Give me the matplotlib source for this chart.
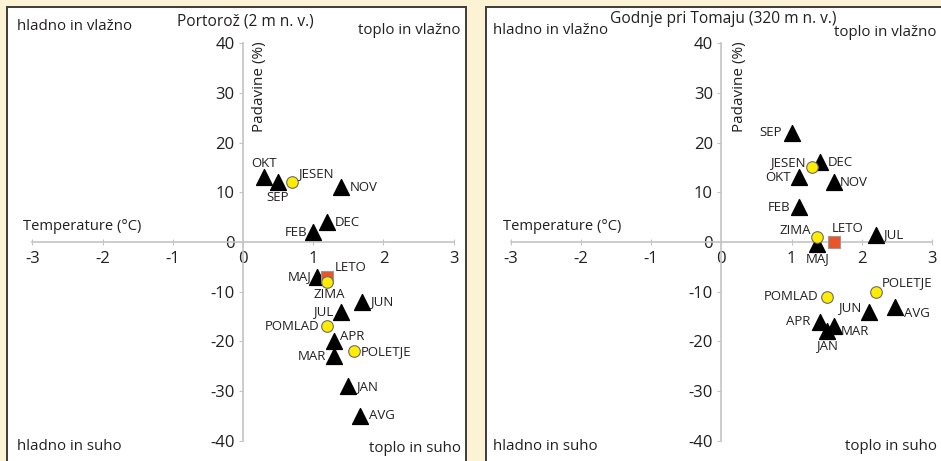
import numpy as np
import matplotlib.pyplot as plt
from matplotlib.patches import Rectangle

plt.rcParams['font.family'] = ['Open Sans', 'DejaVu Sans']
plt.rcParams['axes.unicode_minus'] = False

# Portoroz
port_months = ["JAN", "FEB", "MAR", "APR", "MAJ", "JUN", "JUL", "AVG", "SEP", "OKT", "NOV", "DEC"]
port_month_t = [1.5, 1.0, 1.3, 1.3, 1.05, 1.7, 1.4, 1.67, 0.5, 0.3, 1.4, 1.2]
port_month_p = [-29, 2, -23, -20, -7, -12, -14, -35, 12, 13, 11, 4]
port_seasons = ["ZIMA", "POMLAD", "POLETJE", "JESEN"]
port_season_t = [1.2, 1.2, 1.58, 0.7]
port_season_p = [-8, -17, -22, 12]
port_year_t = [1.2]
port_year_p = [-7]

# Godnje pri Tomaju
godn_months = ["JAN", "FEB", "MAR", "APR", "MAJ", "JUN", "JUL", "AVG", "SEP", "OKT", "NOV", "DEC"]
godn_month_t = [1.5, 1.1, 1.6, 1.4, 1.37, 2.1, 2.2, 2.48, 1.0, 1.1, 1.6, 1.41]
godn_month_p = [-18, 7, -17, -16, -0.5, -14, 1.5, -13, 22, 13, 12, 16]
godn_seasons = ["ZIMA", "POMLAD", "POLETJE", "JESEN"]
godn_season_t = [1.37, 1.5, 2.2, 1.29]
godn_season_p = [1, -11, -10, 15]
godn_year_t = [1.6]
godn_year_p = [0]

# label offsets in pixels (dx, dy, ha)
port_month_off = {"JAN": (8, 0, "left"), "FEB": (-6, 0, "right"), "MAR": (-8, 0, "right"),
                  "APR": (6, 5, "left"), "MAJ": (-5, 0, "right"), "JUN": (8, 0, "left"),
                  "JUL": (-8, 0, "right"), "AVG": (9, 0, "left"), "SEP": (0, -15, "center"),
                  "OKT": (0, 14, "center"), "NOV": (8, 0, "left"), "DEC": (8, 0, "left")}
port_season_off = {"ZIMA": (2, -13, "center"), "POMLAD": (-8, 0, "right"),
                   "POLETJE": (7, 0, "left"), "JESEN": (6, 9, "left")}
port_year_off = (8, 9, "left")

godn_month_off = {"JAN": (0, -14, "center"), "FEB": (-8, 0, "right"), "MAR": (7, -5, "left"),
                  "APR": (-9, 0, "right"), "MAJ": (0, -14, "center"), "JUN": (-7, 4, "right"),
                  "JUL": (7, 0, "left"), "AVG": (9, -7, "left"), "SEP": (-10, 0, "right"),
                  "OKT": (-8, 0, "right"), "NOV": (6, 0, "left"), "DEC": (7, 0, "left")}
godn_season_off = {"ZIMA": (-6, 7, "right"), "POMLAD": (-8, 0, "right"),
                   "POLETJE": (6, 9, "left"), "JESEN": (-6, 5, "right")}
godn_year_off = (-2, 13, "left")

W, H = 941, 461
fig = plt.figure(figsize=(W / 100, H / 100), dpi=100)
fig.patch.set_facecolor("#fcf3d4")

grey = "#c4c4c4"
txt = "#231f20"


def panel(box, x0px, months, mt, mp, moff, seasons, st, sp, soff, yt, yp, yoff):
    left, right, top, bottom = box
    unit_x, unit_y = 70.2, 4.97
    ax = fig.add_axes([left / W, 1 - bottom / H, (right - left) / W, (bottom - top) / H])
    ax.set_xlim((left - x0px) / unit_x, (right - x0px) / unit_x)
    ax.set_ylim((242 - bottom) / unit_y, (242 - top) / unit_y)
    ax.set_facecolor("white")
    ax.add_patch(Rectangle((0, 0), 1, 1, transform=ax.transAxes, fill=False,
                           ec="#3c3c3c", lw=1.4, clip_on=False, zorder=10))
    for s in ["top", "right"]:
        ax.spines[s].set_visible(False)
    ax.spines["left"].set_position(("data", 0))
    ax.spines["bottom"].set_position(("data", 0))
    ax.spines["left"].set_bounds(-40, 40)
    ax.spines["bottom"].set_bounds(-3, 3)
    for s in ["left", "bottom"]:
        ax.spines[s].set_color(grey)
        ax.spines[s].set_linewidth(1.2)
    ax.set_xticks(np.arange(-3, 4, 1))
    ax.set_yticks(np.arange(-40, 41, 10))
    ax.tick_params(axis="x", direction="inout", length=5, color=grey, labelsize=12,
                   labelcolor=txt, pad=4)
    ax.tick_params(axis="y", direction="out", length=3, color=grey, labelsize=12,
                   labelcolor=txt, pad=3)

    ax.scatter(mt, mp, marker="^", s=130, color="black", zorder=3)
    ax.scatter(st, sp, marker="o", s=70, color="#ffec00", edgecolors="#6b6b6b",
               linewidths=0.8, zorder=4)
    ax.scatter(yt, yp, marker="s", s=70, color="#ea5428", edgecolors="#9a9a9a",
               linewidths=0.8, zorder=3)

    for name, x, y in zip(months, mt, mp):
        dx, dy, ha = moff[name]
        ax.annotate(name, (x, y), xytext=(dx, dy), textcoords="offset pixels",
                    ha=ha, va="center", fontsize=9.5, color=txt, zorder=5)
    for name, x, y in zip(seasons, st, sp):
        dx, dy, ha = soff[name]
        ax.annotate(name, (x, y), xytext=(dx, dy), textcoords="offset pixels",
                    ha=ha, va="center", fontsize=9.5, color=txt, zorder=5)
    dx, dy, ha = yoff
    ax.annotate("LETO", (yt[0], yp[0]), xytext=(dx, dy), textcoords="offset pixels",
                ha=ha, va="center", fontsize=9.5, color=txt, zorder=5)

    def px(xp, yp_, s, size=10.8, **kw):
        ax.text((xp - x0px) / unit_x, (242 - yp_) / unit_y, s, color=txt,
                fontsize=size, va="center", **kw)

    return ax, px


ax1, t1 = panel((7, 466, 7, 463), 243, port_months, port_month_t, port_month_p, port_month_off,
                port_seasons, port_season_t, port_season_p, port_season_off,
                port_year_t, port_year_p, port_year_off)
t1(17, 27, "hladno in vlažno", ha="left")
t1(461, 31, "toplo in vlažno", ha="right")
t1(17, 446, "hladno in suho", ha="left")
t1(461, 449, "toplo in suho", ha="right")
t1(245, 21, "Portorož (2 m n. v.)", size=11.2, ha="center")
t1(23, 227, "Temperature (°C)", size=10.6, ha="left")
t1(260, 87, "Padavine (%)", size=11, ha="center", rotation=90)

ax2, t2 = panel((486, 946, 7, 463), 721.3, godn_months, godn_month_t, godn_month_p, godn_month_off,
                godn_seasons, godn_season_t, godn_season_p, godn_season_off,
                godn_year_t, godn_year_p, godn_year_off)
t2(493, 31, "hladno in vlažno", ha="left")
t2(936, 32, "toplo in vlažno", ha="right")
t2(493, 447, "hladno in suho", ha="left")
t2(937, 447, "toplo in suho", ha="right")
t2(723, 19, "Godnje pri Tomaju (320 m n. v.)", size=11.2, ha="center")
t2(503, 227, "Temperature (°C)", size=10.6, ha="left")
t2(739, 87, "Padavine (%)", size=11, ha="center", rotation=90)

fig.savefig("out.png", dpi=100, facecolor=fig.get_facecolor())
